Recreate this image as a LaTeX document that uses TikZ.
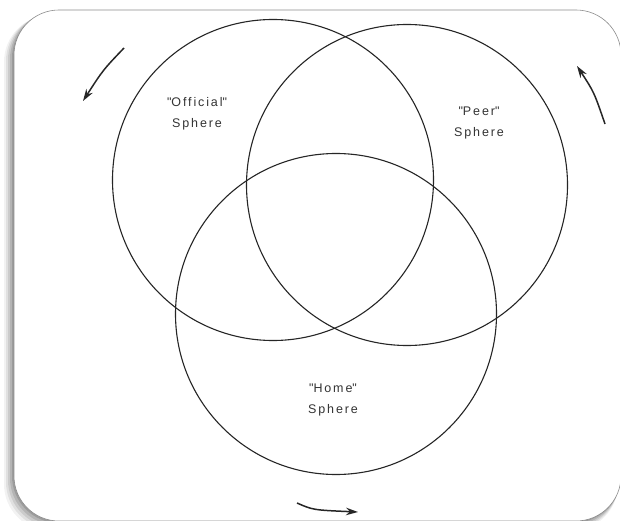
\documentclass[tikz,border=0pt]{standalone}
\usepackage{fontspec}
\setmainfont[LetterSpace=15]{Liberation Sans}
\usetikzlibrary{arrows.meta}
\newcommand{\qq}{\textquotedbl}
\begin{document}
\begin{tikzpicture}[x=1pt,y=-1pt,
  sphere/.style={circle,draw=black!85,line width=1.1pt,minimum size=321pt,inner sep=0pt},
  lbl/.style={align=center,font=\fontsize{12.5}{20.5}\selectfont,text=black!80},
  turn/.style={line width=1.5pt,black!85,-{Stealth[length=12pt,width=7.5pt]}}]
\useasboundingbox (0,0) rectangle (620,521);
\fill[white] (0,0) rectangle (620,521);
% shadow of the frame
\foreach \d/\o in {10/0.05,8/0.07,6/0.09,4/0.11,2/0.13}{
  \fill[black,opacity=\o,rounded corners=47pt] (14-\d,10+\d*0.5) rectangle (621-\d*0.3,521+\d);
}
\fill[white,draw=black!45,line width=0.6pt,rounded corners=45pt] (14,10) rectangle (621,521);
% spheres
\node[sphere] (off) at (273,180) {};
\node[sphere] (peer) at (407,185) {};
\node[sphere] (home) at (336,314) {};
% labels
\node[lbl] (offl) at (197,114) {\qq Official\qq\\Sphere};
\node[lbl] (peerl) at (479,123) {\qq Peer\qq\\Sphere};
\node[lbl] (homel) at (333,400) {\qq Home\qq\\Sphere};
% rotation arrows
\coordinate (a1s) at (124,48);
\coordinate (a1e) at (83,101);
\coordinate (a2s) at (605,124);
\coordinate (a2e) at (577,66);
\coordinate (a3s) at (297,503);
\coordinate (a3e) at (358,512);
\draw[turn] (a1s) .. controls (103,70) .. (a1e);
\draw[turn] (a2s) .. controls (594,92) .. (a2e);
\draw[turn] (a3s) .. controls (313,510) .. (a3e);
\end{tikzpicture}
\end{document}
